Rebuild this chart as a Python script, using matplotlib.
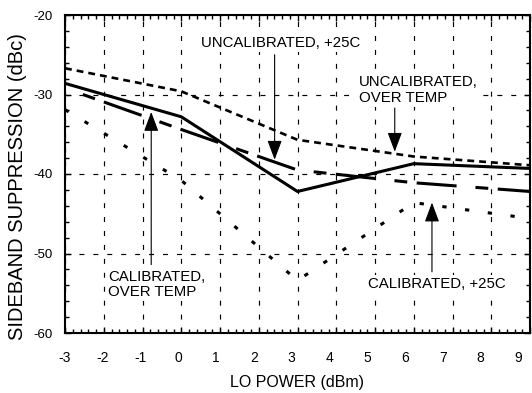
import matplotlib
matplotlib.use("Agg")
import matplotlib.pyplot as plt
from matplotlib.ticker import MultipleLocator
from matplotlib.transforms import ScaledTranslation

plt.rcParams['font.family'] = ['Liberation Sans', 'DejaVu Sans']
plt.rcParams['axes.unicode_minus'] = False

# Data (LO power in dBm, sideband suppression in dBc)
lo_power = [-3, 0, 3, 6, 9]
solid_cal_over_temp = [-28.6, -32.8, -42.2, -38.7, -39.3]
uncal_over_temp = [-26.7, -29.6, -35.7, -37.8, -38.9]
uncal_25c = [-29.2, -34.4, -39.5, -41.1, -42.2]
cal_25c = [-31.9, -40.8, -53.4, -43.6, -45.6]

xticks = list(range(-3, 10))
yticks = [-60, -50, -40, -30, -20]

fig = plt.figure(figsize=(5.32, 3.93), dpi=100)
ax = fig.add_axes([65/532, 1-333/393, 465/532, 318/393])

ax.plot(lo_power, uncal_over_temp, color='black', lw=1.9,
        linestyle=(0, (2.6, 1.9)), zorder=3)
ax.plot(lo_power, solid_cal_over_temp, color='black', lw=2.2,
        linestyle='-', zorder=3)
ax.plot(lo_power, uncal_25c, color='black', lw=2.2,
        linestyle=(13.1, (13.1, 6.2, 4.2, 3.1)), zorder=3)
ax.plot(lo_power, cal_25c, color='black', lw=2.2,
        linestyle=(0, (1.4, 6.1)), zorder=3)

ax.set_xlim(-3, 9)
ax.set_ylim(-60, -20)
ax.set_xticks(xticks)
ax.set_yticks(yticks)
ax.xaxis.set_minor_locator(MultipleLocator(0.2))
ax.yaxis.set_minor_locator(MultipleLocator(2))
ax.tick_params(which='both', direction='in', top=True, right=True,
               color='black', width=1)
ax.tick_params(which='major', length=4)
ax.tick_params(which='minor', length=3)
ax.tick_params(axis='x', which='major', labelsize=10, pad=13)
ax.tick_params(axis='y', which='major', labelsize=9.5, pad=9)
for sp in ax.spines.values():
    sp.set_linewidth(1.5)
    sp.set_color('black')

# x tick labels drift slightly left in the reference
for i, lbl in enumerate(ax.get_xticklabels()):
    lbl.set_transform(lbl.get_transform() +
                      ScaledTranslation(-0.98 * i / 100, 0, fig.dpi_scale_trans))

ax.grid(True, which='major', color='black', lw=0.85,
        linestyle=(0, (4.2, 7.6)), zorder=1)

ax.set_xlabel('LO POWER (dBm)', fontsize=11.5, labelpad=7)
ax.set_ylabel('SIDEBAND SUPPRESSION (dBc)', fontsize=14.5)
ax.yaxis.set_label_coords(-0.082, 0.462)

arrow_kw = dict(arrowstyle='-|>,head_length=1.2,head_width=0.45',
                mutation_scale=10, lw=0.8, color='black',
                shrinkA=0, shrinkB=0)
txt_kw = dict(fontsize=10.8, ha='left', va='center', linespacing=1.15,
              zorder=4, bbox=dict(fc='white', ec='none', pad=1.5))

ax.text(0.52, -23.5, 'UNCALIBRATED, +25C', **txt_kw)
ax.annotate('', xy=(2.41, -38.2), xytext=(2.41, -25.0), arrowprops=arrow_kw)

ax.text(4.58, -29.4, 'UNCALIBRATED,\nOVER TEMP', **txt_kw)
ax.annotate('', xy=(5.51, -37.2), xytext=(5.51, -31.7), arrowprops=arrow_kw)

ax.text(-1.89, -53.9, 'CALIBRATED,\nOVER TEMP', **txt_kw)
ax.annotate('', xy=(-0.775, -32.2), xytext=(-0.775, -51.4), arrowprops=arrow_kw)

ax.text(4.81, -53.8, 'CALIBRATED, +25C', **txt_kw)
ax.annotate('', xy=(6.47, -43.6), xytext=(6.47, -52.3), arrowprops=arrow_kw)

fig.savefig('out.png', dpi=100)
